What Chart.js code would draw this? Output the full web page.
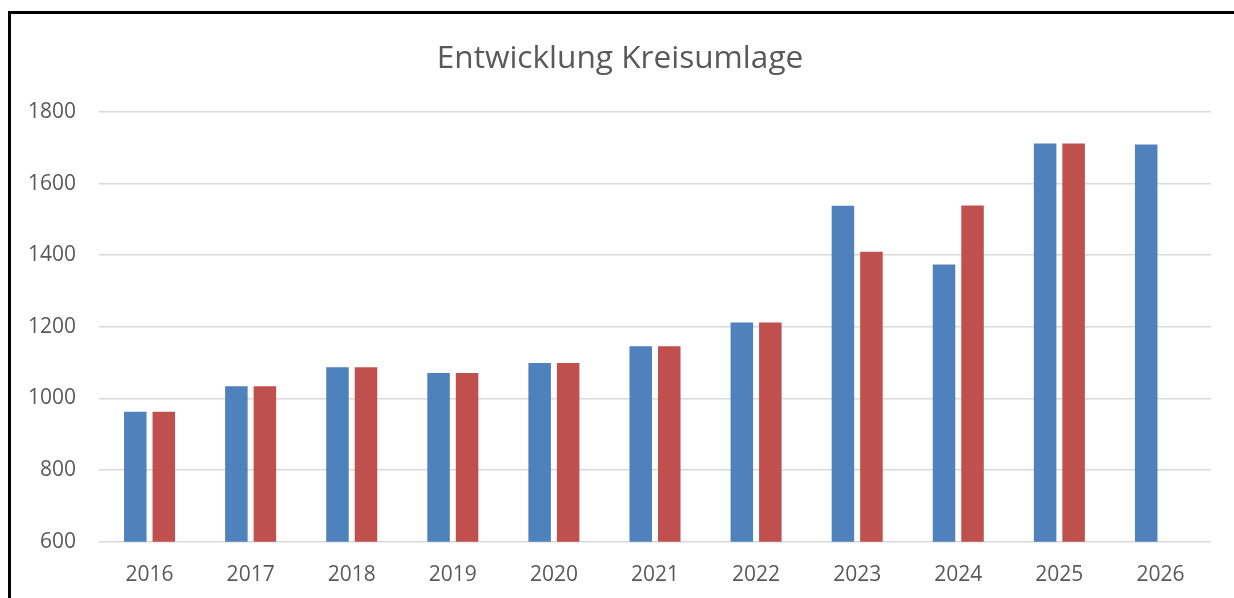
<!DOCTYPE html>
<html>
<head>
<meta charset="utf-8">
<title>Entwicklung Kreisumlage</title>
<script src="https://cdn.jsdelivr.net/npm/chart.js@4/dist/chart.umd.min.js"></script>
<style>
	html, body { margin: 0; padding: 0; background: #fff; }
	#wrap { position: relative; width: 1234px; height: 598px; overflow: hidden; }
	#frame { position: absolute; left: 8px; top: 11px; right: -10px; bottom: -10px; border-top: 3px solid #000; border-left: 3px solid #000; pointer-events: none; }
	#kreisChart { position: absolute; left: 0; top: 0; }
</style>
</head>
<body>
<div id="wrap">
	<canvas id="kreisChart" width="1234" height="598"></canvas>
	<div id="frame"></div>
</div>
<script>
var years = ['2016', '2017', '2018', '2019', '2020', '2021', '2022', '2023', '2024', '2025', '2026'];
var blueValues = [963, 1034, 1087, 1071, 1099, 1146, 1212, 1538, 1374, 1712, 1709];
var redValues = [963, 1034, 1087, 1071, 1099, 1146, 1212, 1410, 1539, 1712, null];
var yTicks = [600, 800, 1000, 1200, 1400, 1600, 1800];

var textColor = '#595959';
var gridColor = '#d9d9d9';

var ctx = document.getElementById('kreisChart').getContext('2d');

var kreisChart = new Chart(ctx, {
	type: 'bar',
	data: {
		labels: years,
		datasets: [{
			label: 'Reihe 1',
			data: blueValues,
			backgroundColor: '#4f81bd',
			categoryPercentage: 0.564,
			barPercentage: 0.79
		}, {
			label: 'Reihe 2',
			data: redValues,
			backgroundColor: '#c0504d',
			categoryPercentage: 0.564,
			barPercentage: 0.79
		}]
	},
	options: {
		responsive: false,
		animation: false,
		layout: {
			padding: { top: 8, right: 23, bottom: -11, left: 29 }
		},
		plugins: {
			legend: { display: false },
			tooltip: { enabled: false },
			title: {
				display: true,
				text: 'Entwicklung Kreisumlage',
				color: textColor,
				font: { family: 'Open Sans', size: 31.6, weight: 'normal' },
				padding: { top: 32, bottom: 34 }
			}
		},
		scales: {
			x: {
				grid: { display: false, drawTicks: false },
				border: { display: false },
				ticks: {
					color: textColor,
					padding: 21,
					maxRotation: 0,
					font: { family: 'Open Sans', size: 21 }
				}
			},
			y: {
				min: yTicks[0],
				max: yTicks[yTicks.length - 1],
				afterBuildTicks: function(axis) {
					axis.ticks = yTicks.map(function(v) { return { value: v }; });
				},
				afterFit: function(axis) {
					axis.width = 70;
				},
				grid: { color: gridColor, lineWidth: 1.5, drawTicks: false },
				border: { display: false },
				ticks: {
					color: textColor,
					padding: 23,
					font: { family: 'Open Sans', size: 21 },
					callback: function(value) { return String(value); }
				}
			}
		}
	}
});
</script>
</body>
</html>
